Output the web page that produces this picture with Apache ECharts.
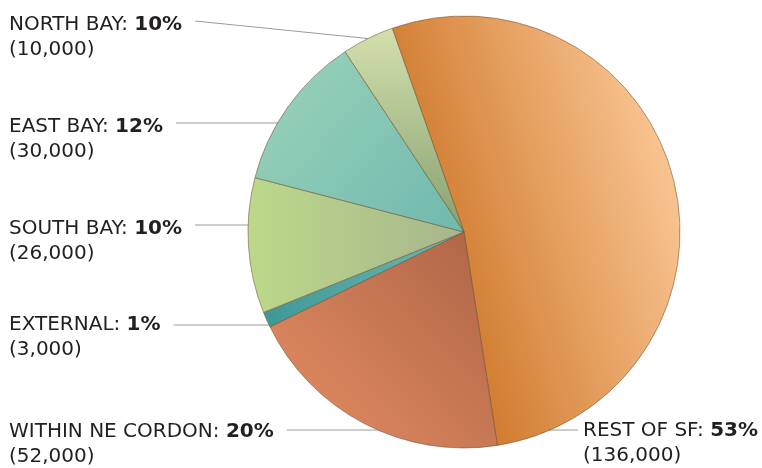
<!DOCTYPE html>
<html>
<head>
<meta charset="utf-8">
<script src="https://cdn.jsdelivr.net/npm/echarts@6/dist/echarts.min.js"></script>
<style>
  html, body { margin: 0; padding: 0; background: #fff; }
  #chart { width: 762px; height: 468px; }
</style>
</head>
<body>
<div id="chart"></div>
<script>
// data, clockwise from the top
const categories = ['REST OF SF', 'WITHIN NE CORDON', 'EXTERNAL', 'SOUTH BAY', 'EAST BAY', 'NORTH BAY'];
const values = [136000, 52000, 3000, 26000, 30000, 10000];
const percentLabels = ['53%', '20%', '1%', '10%', '12%', '10%'];

// pie geometry
const cx = 464, cy = 232, r = 216;

// label boxes (top-left) and leader line y
const labelPos = [
  { x: 583, y: 418, ly: 430, right: true },
  { x: 9, y: 419, ly: 430 },
  { x: 9, y: 312, ly: 325 },
  { x: 9, y: 216, ly: 225 },
  { x: 9, y: 114, ly: 123 },
  { x: 9, y: 12, ly: 21, slanted: true }
];

const grad = (x, y, x2, y2, c1, c2) => new echarts.graphic.LinearGradient(x, y, x2, y2, [
  { offset: 0, color: c1 }, { offset: 1, color: c2 }
]);

const sliceColors = [
  grad(0, 0.4, 1, 0.2, '#cd7425', '#fdcc9c'),
  grad(1, 0, 0, 1, '#ad6446', '#e68e64'),
  grad(0, 0, 1, 0, '#3f9896', '#6cb8b2'),
  grad(0, 0, 1, 0, '#bcd98a', '#a7b58d'),
  grad(0, 0, 1, 1, '#9dd3ba', '#6fb9ae'),
  grad(0, 0, 0, 1, '#d4e0ae', '#86a070')
];

const chart = echarts.init(document.getElementById('chart'), null, { renderer: 'canvas' });

chart.setOption({
  animation: false,
  series: [{
    type: 'pie',
    center: [cx, cy],
    radius: r,
    startAngle: 109.4,
    clockwise: true,
    data: categories.map((name, i) => ({
      name,
      value: values[i],
      itemStyle: { color: sliceColors[i] }
    })),
    itemStyle: {
      borderColor: 'rgba(110,80,50,0.55)',
      borderWidth: 1
    },
    label: {
      show: true,
      position: 'outer',
      alignTo: 'none',
      overflow: 'none',
      formatter: p => '{n|' + p.name + ': }{b|' + percentLabels[p.dataIndex] + '}\n{n|(' + values[p.dataIndex].toLocaleString('en-US') + ')}',
      rich: {
        n: { fontFamily: 'DejaVu Sans', fontSize: 20, color: '#231f20', lineHeight: 25 },
        b: { fontFamily: 'DejaVu Sans', fontSize: 20, fontWeight: 'bold', color: '#231f20', lineHeight: 25 }
      }
    },
    labelLine: {
      show: true,
      length: 10,
      length2: 10,
      lineStyle: { color: '#9a9a9a', width: 1 }
    },
    labelLayout: function (params) {
      const lp = labelPos[params.dataIndex];
      const w = params.labelRect.width;
      let points;
      if (lp.right) {
        const ex = cx + Math.sqrt(r * r - (lp.ly - cy) * (lp.ly - cy));
        points = [[ex - 2, lp.ly], [ex, lp.ly], [lp.x - 5, lp.ly]];
      } else if (lp.slanted) {
        const p0 = params.labelLinePoints ? params.labelLinePoints[0] : [cx, cy];
        points = [[p0[0], p0[1]], [p0[0], p0[1]], [lp.x + w + 13, lp.ly]];
      } else {
        const ex = cx - Math.sqrt(r * r - (lp.ly - cy) * (lp.ly - cy));
        points = [[ex + 2, lp.ly], [ex, lp.ly], [lp.x + w + 13, lp.ly]];
      }
      return {
        x: lp.x,
        y: lp.y,
        align: 'left',
        verticalAlign: 'top',
        labelLinePoints: points
      };
    }
  }]
});
</script>
</body>
</html>
